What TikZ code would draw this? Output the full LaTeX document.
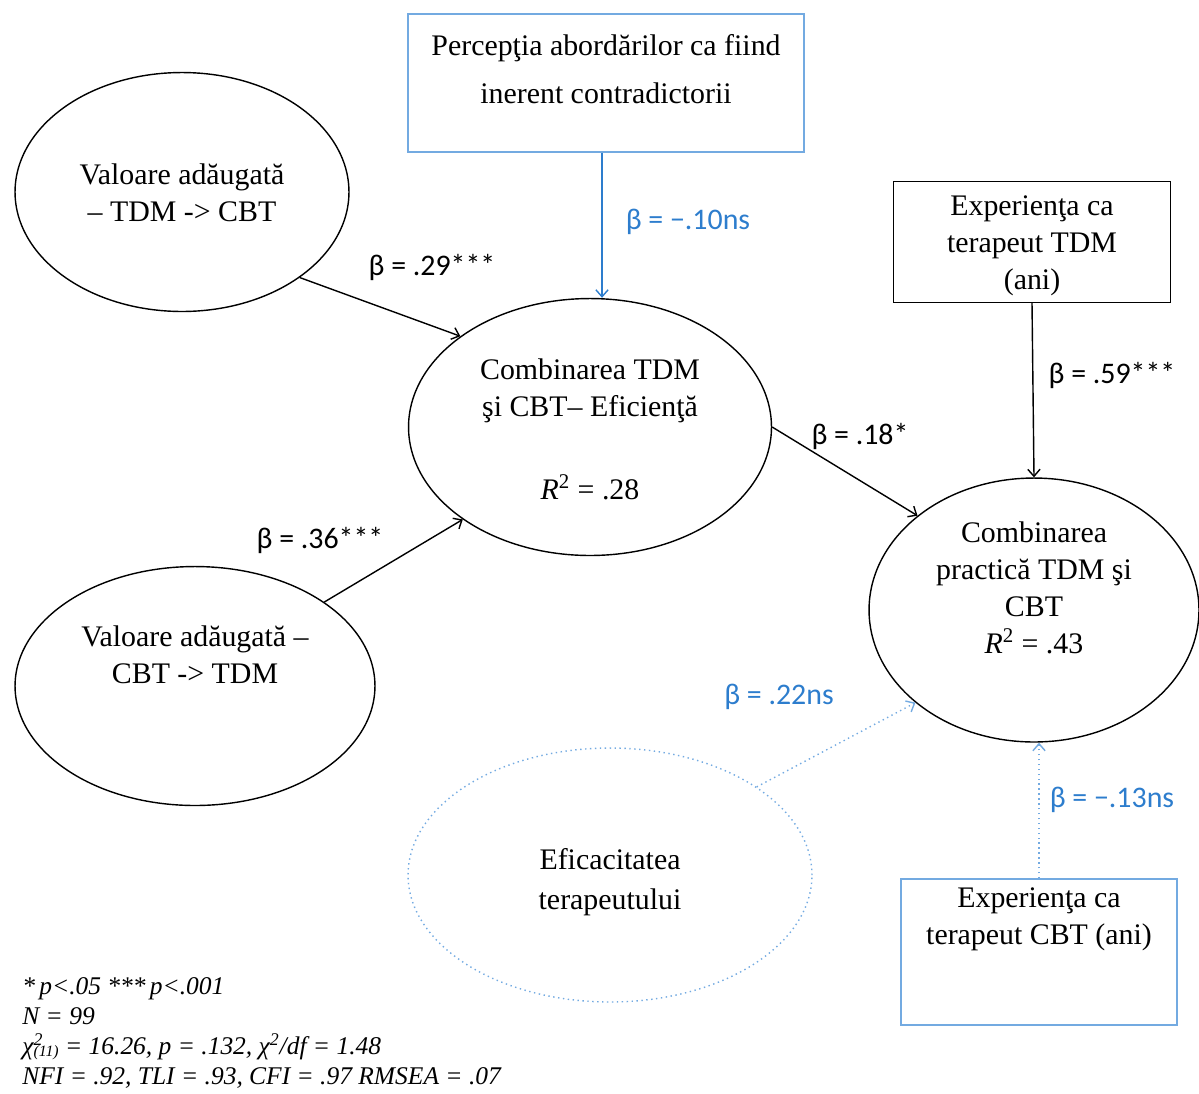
\documentclass[tikz,border=0pt]{standalone}
\usepackage{fontspec}
\setmainfont{Liberation Serif}
\newfontfamily\coeffont{Carlito}
\usetikzlibrary{shapes.geometric,arrows.meta}
\definecolor{coefblue}{RGB}{45,125,205}
\definecolor{lineblue}{RGB}{115,170,225}
\begin{document}
\begin{tikzpicture}[x=0.02cm,y=-0.02cm,
    every node/.style={font=\fontsize{17}{21}\selectfont},
    latent/.style={draw,ellipse,line width=0.8pt,inner sep=0pt},
    varbox/.style={draw,rectangle,line width=0.8pt,inner sep=0pt},
    txt/.style={align=center},
    effect/.style={-{Straight Barb[length=4pt,width=7pt]},line width=0.8pt},
    nseffect/.style={effect,lineblue},
    coef/.style={font=\coeffont\fontsize{17}{20}\selectfont},
    nscoef/.style={coef,text=coefblue}]
        \useasboundingbox (0,0) rectangle (1199,1093);

        % variabile
        \node[varbox,lineblue,minimum width=7.92cm,minimum height=2.76cm] (contra) at (606,83) {};
        \node[txt,font=\fontsize{17}{27}\selectfont] (contratext) at (606,69) {Percepţia abordărilor ca fiind\\inerent contradictorii};

        \node[latent,minimum width=6.68cm,minimum height=4.78cm] (vtc) at (182,192) {};
        \node[txt] (vtctext) at (182,193) {Valoare adăugată\\– TDM -> CBT};

        \node[latent,minimum width=7.26cm,minimum height=5.14cm] (efic) at (590,427) {};
        \node[txt] (eficb) at (590,391) {Combinarea TDM\\şi CBT– Eficienţă};
        \node (eficr) at (590,487) {\textit{R}\textsuperscript{2} = .28};

        \node[latent,minimum width=7.2cm,minimum height=4.78cm] (vct) at (195,686) {};
        \node[txt] (vcttext) at (195,655) {Valoare adăugată –\\CBT -> TDM};

        \node[varbox,minimum width=5.54cm,minimum height=2.42cm] (exptdm) at (1032,242) {};
        \node[txt] (exptdmtext) at (1032,246) {Experienţa ca\\terapeut TDM\\(ani)};

        \node[latent,minimum width=6.6cm,minimum height=5.28cm] (prac) at (1034,610) {};
        \node[txt] (practext) at (1034,588) {Combinarea\\practică TDM şi\\CBT\\\textit{R}\textsuperscript{2} = .43};

        \node[latent,lineblue,dotted,minimum width=8.08cm,minimum height=5.08cm] (terap) at (610,875) {};
        \node[txt,font=\fontsize{17}{23}\selectfont] (teraptext) at (610,882) {Eficacitatea\\terapeutului};

        \node[varbox,lineblue,minimum width=5.52cm,minimum height=2.92cm] (expcbt) at (1039,952) {};
        \node[txt] (expcbttext) at (1039,919) {Experienţa ca\\terapeut CBT (ani)};

        % efecte
        \draw[effect] (vtc.-36) -- (efic.145);
        \draw[effect] (vct.33) -- (efic.-144);
        \draw[effect,coefblue] (contra.south) ++(-4,0) coordinate (c1) -- (c1 |- efic.north);
        \draw[effect] (efic.east) -- (prac.141);
        \draw[effect] (exptdm.south) -- (prac.north);
        \draw[nseffect,dotted] (terap.31) -- (prac.218);
        \draw[nseffect,dotted] (expcbt.north) -- (expcbt.north |- prac.south);

        \node[coef] (b1) at (432,267) {β = .29***};
        \node[coef] (b2) at (320,540) {β = .36***};
        \node[nscoef] (b3) at (688,222) {β = −.10ns};
        \node[coef] (b4) at (860,436) {β = .18*};
        \node[coef] (b5) at (1112,375) {β = .59***};
        \node[nscoef] (b6) at (779,697) {β = .22ns};
        \node[nscoef] (b7) at (1112,800) {β = −.13ns};

        \node[anchor=west,align=left,inner sep=0pt,font=\itshape\fontsize{14.5}{17}\selectfont] (fit) at (22,1033)
          {*\,p<.05 ***\,p<.001\\N = 99\\χ\rlap{\textsuperscript{2}}\raisebox{-0.15ex}{\fontsize{9}{9}\selectfont(11)} = 16.26, p = .132, χ\textsuperscript{2}/df = 1.48\\NFI = .92, TLI = .93, CFI = .97 RMSEA = .07};
\end{tikzpicture}
\end{document}
